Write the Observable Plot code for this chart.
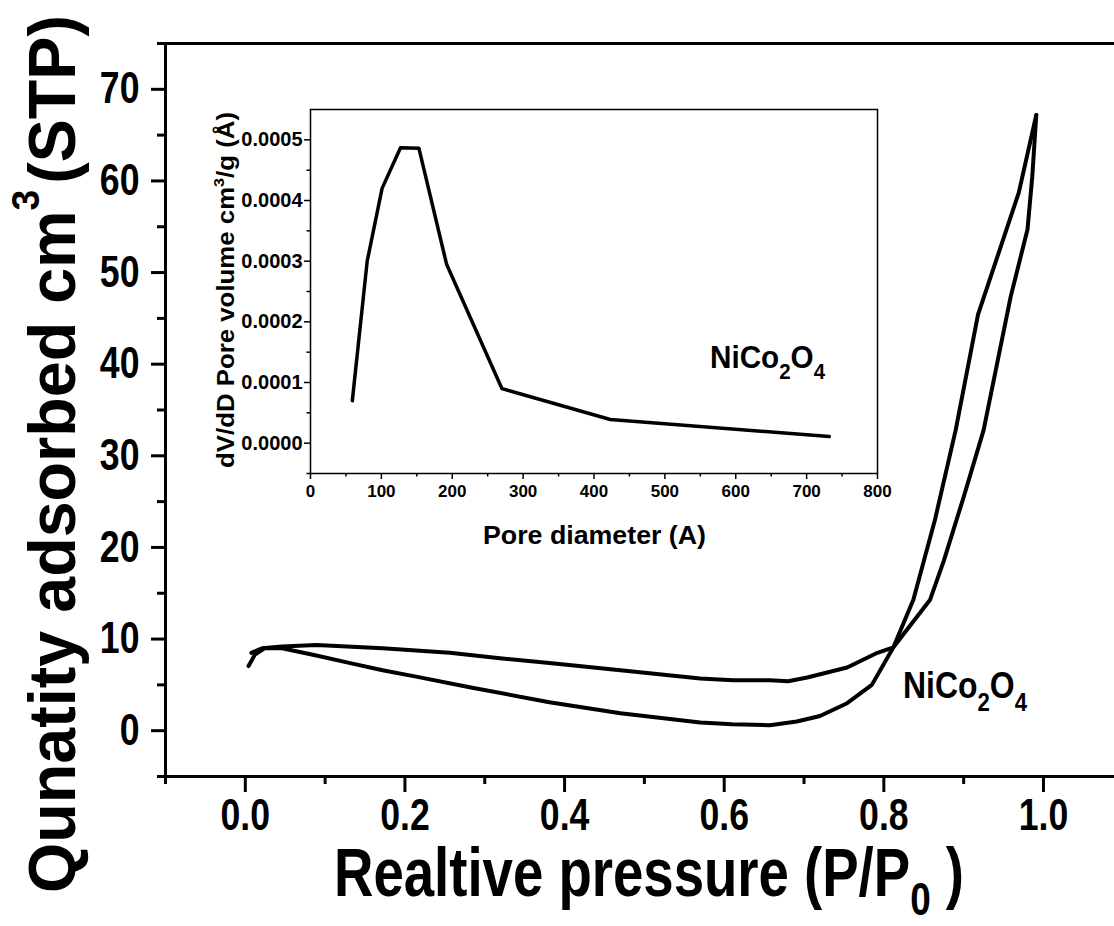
<!DOCTYPE html>
<html><head><meta charset="utf-8">
<script src="https://cdn.jsdelivr.net/npm/d3@7"></script>
<script src="https://cdn.jsdelivr.net/npm/@observablehq/plot@0.6"></script>
<style>html,body{margin:0;padding:0;background:#fff;overflow:hidden}</style>
</head><body><div id="chart"></div>
<script>
// Main isotherm: lower branch (from 0.004 to 0.991)
const lowerP = [0.004, 0.012, 0.024, 0.046, 0.089, 0.130, 0.172, 0.214, 0.281, 0.381, 0.47, 0.57, 0.61, 0.657, 0.691, 0.720, 0.754, 0.785, 0.812, 0.837, 0.864, 0.890, 0.918, 0.969, 0.991];
const lowerQ = [7.05, 8.3, 9.0, 9.0, 8.2, 7.4, 6.6, 5.9, 4.75, 3.1, 1.9, 0.9, 0.7, 0.6, 1.0, 1.6, 3.0, 5.0, 9.1, 14.3, 23.0, 32.8, 45.4, 58.7, 67.2];
// upper branch
const upperP = [0.0075, 0.021, 0.046, 0.089, 0.172, 0.256, 0.319, 0.381, 0.47, 0.57, 0.611, 0.657, 0.68, 0.704, 0.754, 0.792, 0.812, 0.858, 0.875, 0.90, 0.925, 0.959, 0.98, 0.986, 0.991];
const upperQ = [8.5, 9.0, 9.2, 9.35, 9.0, 8.5, 7.9, 7.4, 6.6, 5.7, 5.5, 5.5, 5.4, 5.8, 6.9, 8.5, 9.1, 14.3, 18.5, 25.5, 32.8, 47.4, 54.7, 60.5, 67.2];
// Inset: pore size distribution
const poreD = [59, 80, 101, 127, 153, 192, 270, 423, 732];
const dVdD = [0.00007, 0.0003, 0.00042, 0.000487, 0.000486, 0.000295, 0.00009, 0.000039, 0.000011];
// Ticks
const xMajor = [0, 0.2, 0.4, 0.6, 0.8, 1.0];
const xMinor = [-0.1, 0.1, 0.3, 0.5, 0.7, 0.9];
const yMajor = [0, 10, 20, 30, 40, 50, 60, 70];
const yMinor = [-5, 5, 15, 25, 35, 45, 55, 65, 75];
const insetXMajor = [0, 100, 200, 300, 400, 500, 600, 700, 800];
const insetXMinor = [50, 150, 250, 350, 450, 550, 650, 750];
const insetYMajor = [0, 0.0001, 0.0002, 0.0003, 0.0004, 0.0005];
const insetYMinor = [-0.00005, 0.00005, 0.00015, 0.00025, 0.00035, 0.00045];

const font = "'Liberation Sans', Arial, Helvetica, sans-serif";
const lower = lowerP.map((p, i) => ({p, q: lowerQ[i]}));
const upper = upperP.map((p, i) => ({p, q: upperQ[i]}));
const psd = poreD.map((d, i) => ({d, v: dVdD[i]}));

const main = Plot.plot({
  width: 1114, height: 926,
  marginLeft: 165, marginRight: 0, marginTop: 43, marginBottom: 150,
  style: {fontFamily: font, fontWeight: "bold", background: "white", color: "black"},
  x: {domain: [-0.1, 1.089]},
  y: {domain: [-5, 75]},
  marks: [
    Plot.axisX(xMajor, {tickSize: 16, tickPadding: 6, fontSize: 44, strokeWidth: 3, tickFormat: d3.format(".1f"), label: null}),
    Plot.axisX(xMinor, {tickSize: 8, text: null, strokeWidth: 3, label: null}),
    Plot.axisY(yMajor, {tickSize: 14, tickPadding: 12, fontSize: 44, strokeWidth: 3, tickFormat: d => String(d), label: null}),
    Plot.axisY(yMinor, {tickSize: 8, text: null, strokeWidth: 3, label: null}),
    Plot.ruleX([-0.1], {strokeWidth: 3}),
    Plot.ruleY([-5, 75], {strokeWidth: 3}),
    Plot.line(lower, {x: "p", y: "q", strokeWidth: 4, strokeLinejoin: "round"}),
    Plot.line(upper, {x: "p", y: "q", strokeWidth: 4, strokeLinejoin: "round"})
  ]
});

const inset = Plot.plot({
  width: 680, height: 480,
  marginLeft: 80, marginRight: 33, marginTop: 29, marginBottom: 87,
  style: {fontFamily: font, fontWeight: "bold", background: "transparent", color: "black"},
  x: {domain: [0, 800]},
  y: {domain: [-0.00005, 0.00055]},
  marks: [
    Plot.frame({strokeWidth: 1.5}),
    Plot.axisX(insetXMajor, {tickSize: 6, tickPadding: 5, fontSize: 17, strokeWidth: 1.5, tickFormat: d => String(d), label: null}),
    Plot.axisX(insetXMinor, {tickSize: 3.5, text: null, strokeWidth: 1.5, label: null}),
    Plot.axisY(insetYMajor, {tickSize: 6, tickPadding: 2, fontSize: 20, strokeWidth: 1.5, tickFormat: d3.format(".4f"), label: null}),
    Plot.axisY(insetYMinor, {tickSize: 3.5, text: null, strokeWidth: 1.5, label: null}),
    Plot.line(psd, {x: "d", y: "v", strokeWidth: 3.5, strokeLinejoin: "round"})
  ]
});
inset.setAttribute("x", 230);
inset.setAttribute("y", 80);
inset.style.width = "680px";
inset.style.height = "480px";
inset.style.maxWidth = "none";
inset.style.overflow = "visible";
main.appendChild(inset);
document.getElementById("chart").appendChild(main);

// condense tick labels of the main chart
main.querySelectorAll(':scope > g[aria-label$="tick label"] text').forEach(t => {
  const L = t.getComputedTextLength();
  t.setAttribute("textLength", L * 0.81);
  t.setAttribute("lengthAdjust", "spacingAndGlyphs");
});

const svg = d3.select(main);
function addText(parts, x, y, size, len, rotate) {
  const t = svg.append("text")
    .attr("transform", `translate(${x},${y})` + (rotate ? ` rotate(${rotate})` : ""))
    .attr("font-family", font).attr("font-weight", "bold")
    .attr("font-size", size).attr("fill", "black").attr("text-anchor", "start");
  parts.forEach(([s, opt]) => {
    const ts = t.append("tspan").text(s);
    if (opt) {
      if (opt.size) ts.attr("font-size", opt.size);
      if (opt.dy) ts.attr("dy", opt.dy);
      if (opt.dx) ts.attr("dx", opt.dx);
    }
  });
  if (len) t.attr("textLength", len).attr("lengthAdjust", "spacingAndGlyphs");
  return t;
}
// Y title
addText([["Qunatity adsorbed cm"], ["3", {size: 38, dy: -36}], ["(STP)", {dy: 36, dx: 6}]], 75, 893, 66, 878, -90);
// X title
addText([["Realtive pressure (P/P"], ["0", {size: 46, dy: 19}], [" )", {dy: -19}]], 334, 896, 68, 630);
// Main sample label
addText([["NiCo"], ["2", {size: 25, dy: 13}], ["O", {dy: -13}], ["4", {size: 25, dy: 13}]], 903, 698, 36, 124);
// Inset titles
addText([["Pore diameter (A)"]], 483, 544, 25, 223);
addText([["dV/dD Pore volume cm"], ["3", {size: 15, dy: -10}], ["/g (Å)", {dy: 10}]], 234, 468, 24, 356, -90);
addText([["NiCo"], ["2", {size: 22, dy: 11}], ["O", {dy: -11}], ["4", {size: 22, dy: 11}]], 710, 368, 32, 115);
</script></body></html>
